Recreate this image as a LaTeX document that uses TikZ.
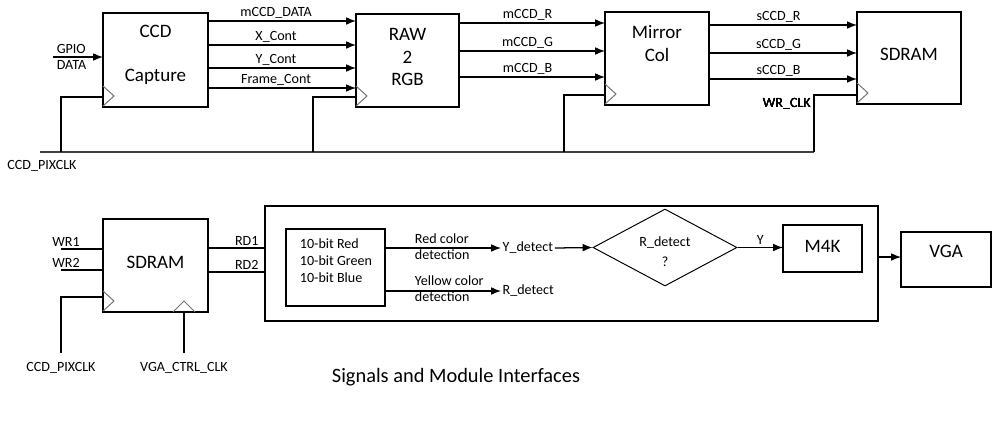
\documentclass[tikz,border=0pt]{standalone}
\usepackage{fontspec}
\setmainfont{Carlito}
\usetikzlibrary{arrows.meta, shapes.geometric, calc}

% clock mark on the lower left corner of a block
\newcommand{\clocktick}[1]{\draw[clkline] ($(#1.south west)+(0,-1)$) -- ++(11,-10) -- ++(-11,-10);}

\begin{document}
\begin{tikzpicture}[x=0.025cm, y=-0.025cm, font=\fontsize{10}{12}\selectfont,
                    >={Latex[length=7pt,width=5.5pt]}]

        % Setup the styles
        \tikzset{blk/.style 2 args={draw, line width=0.9pt, inner sep=0pt, outer sep=0pt,
                                    minimum width=#1*0.025cm, minimum height=#2*0.025cm},
                 big/.style={font=\fontsize{13.5}{16}\selectfont, align=center},
                 wire/.style={line width=0.9pt},
                 sig/.style={wire, ->},
                 tag/.style={above, inner sep=1.5pt},
                 clkline/.style={draw=black!55, line width=0.7pt}}

        \useasboundingbox (0,0) rectangle (999,435);

        % Top row: the blocks
        \node[blk={105}{94}] at (155.5, 60)  (ccd)    {};
        \node[blk={103}{93}] at (407.5, 60.5) (raw)   {};
        \node[blk={104}{93}] at (657, 58.5)  (mirror) {};
        \node[blk={104}{92}] at (909, 58)    (sdram)  {};

        \node[big] at (155.5, 55) (ccdtxt) {CCD\\[15pt]Capture};
        \node[big] at (407.5, 57) (rawtxt) {RAW\\2\\RGB};
        \node[big] at (657, 43.5) (mirtxt) {Mirror\\Col};
        \node[big] at (909, 54)   (sdrtxt) {SDRAM};

        % Top row: the signals
        \coordinate (gpio) at (53, 57);
        \draw[sig] (gpio) -- (ccd.west |- gpio);
        \node[anchor=south west, inner sep=2.5pt] at (gpio) (gpiotxt) {GPIO};
        \node[anchor=north west, inner sep=2.5pt] at (gpio) (datatxt) {DATA};

        \foreach \y/\t in {21/mCCD\_DATA, 45/X\_Cont, 68/Y\_Cont, 88/Frame\_Cont}
            \draw[sig] (ccd.east |- 0,\y) -- node[tag, pos=0.46] {\t} (raw.west |- 0,\y);
        \foreach \y/\t in {23/mCCD\_R, 51/mCCD\_G, 77/mCCD\_B}
            \draw[sig] (raw.east |- 0,\y) -- node[tag, pos=0.47] {\t} (mirror.west |- 0,\y);
        \foreach \y/\t in {25/sCCD\_R, 53/sCCD\_G, 79/sCCD\_B}
            \draw[sig] (mirror.east |- 0,\y) -- node[tag, pos=0.47] {\t} (sdram.west |- 0,\y);

        % Top row: the pixel clock
        \coordinate (bus)  at (40, 152);
        \coordinate (wrup) at (814, 152);
        \draw[wire, black!75] (bus) -- (wrup);
        \draw[wire] (wrup) |- (sdram.west |- 0,95);
        \foreach \bx/\by/\b in {61/97/ccd, 313/97/raw, 564/95/mirror}
            \draw[wire] (\bx,152) |- (\b.west |- 0,\by);
        \foreach \b in {ccd, raw, mirror, sdram}
            \clocktick{\b}
        \node[anchor=east, inner sep=0pt] at (811, 104) (wrclk) {WR\_CLK};
        \node at (42, 166) (pixtop) {CCD\_PIXCLK};

        % Bottom row: the blocks
        \node[blk={105}{93}] at (155.5, 265.5) (sdramb) {};
        \node[blk={613}{115}] at (571.5, 263.5) (outer) {};
        \node[blk={99}{77}]  at (335.5, 267.5) (inner) {};
        \node[draw, diamond, line width=0.7pt, inner sep=0pt,
              minimum width=144*0.025cm, minimum height=77*0.025cm] at (665, 247.5) (rq) {};
        \node[blk={79}{47}]  at (822.5, 248.5) (m4k) {};
        \node[blk={90}{55}]  at (946, 259.5)   (vga) {};

        \node[big] at (155.5, 262) (sdrbtxt) {SDRAM};
        \node[align=left] at (336, 261) (bits) {10-bit Red\\10-bit Green\\10-bit Blue};
        \node[align=center] at (665, 251.5) (rqtxt) {R\_detect\\[2pt]?};
        \node[big] at (822.5, 246) (m4ktxt) {M4K};
        \node[big] at (946, 251)   (vgatxt) {VGA};

        % Bottom row: SDRAM ports
        \foreach \y/\t in {249/WR1, 270/WR2} {
            \draw[wire] (61,\y) -- (sdramb.west |- 0,\y);
            \node[anchor=south west, inner sep=1.5pt] at (50,\y) {\t};
        }
        \draw[wire] (sdramb.east |- 0,248) -- node[tag, pos=0.68] {RD1} (outer.west |- 0,248);
        \draw[wire] (sdramb.east |- 0,272) -- node[tag, pos=0.68] {RD2} (outer.west |- 0,272);

        \coordinate (pixclk) at (61, 353);
        \coordinate (vgaclk) at (184, 353);
        \draw[wire] (pixclk) |- (sdramb.west |- 0,297);
        \draw[wire] (vgaclk) -- (vgaclk |- sdramb.south);
        \clocktick{sdramb}
        \draw[clkline] ($(vgaclk |- sdramb.south)+(-11,0)$) -- ++(11,-11) -- ++(11,11);
        \node[below=3pt] at (pixclk) (pixbot) {CCD\_PIXCLK};
        \node[below=3pt] at (vgaclk) (vgatag) {VGA\_CTRL\_CLK};

        % Bottom row: colour detection
        \node[anchor=west, inner sep=1pt] at (501, 248) (ydet) {Y\_detect};
        \node[anchor=west, inner sep=1pt] at (501, 291) (rdet) {R\_detect};
        \node[align=left, anchor=west, font=\fontsize{10}{11.2}\selectfont] at (410, 246.5) (redtxt) {Red color\\detection};
        \node[align=left, anchor=west, font=\fontsize{10}{11.2}\selectfont] at (410, 289) (yeltxt) {Yellow color\\detection};

        \draw[sig] (inner.east |- ydet) -- (ydet.west);
        \draw[sig] (inner.east |- rdet) -- (rdet.west);
        \draw[sig] (ydet.east) -- (rq.west);
        \draw[sig] (rq.east) -- node[tag] {Y} (m4k.west |- rq.east);
        \draw[sig] (outer.east |- 0,257) -- (vga.west |- 0,257);

        \node[font=\fontsize{14.5}{17}\selectfont] at (456, 377) (caption) {Signals and Module Interfaces};

\end{tikzpicture}
\end{document}
